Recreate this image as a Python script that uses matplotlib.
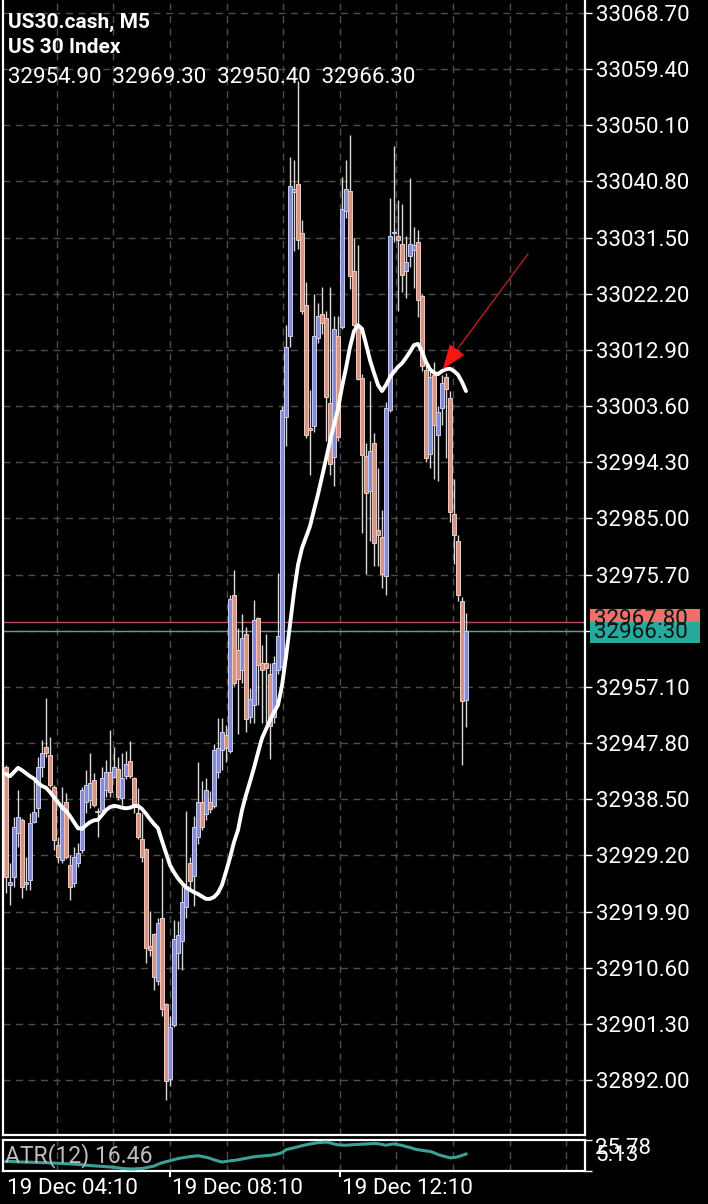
import matplotlib
matplotlib.use("Agg")
import matplotlib.pyplot as plt
import matplotlib.transforms as mtransforms
from matplotlib.patches import Rectangle

plt.rcParams["font.family"] = ["Roboto", "DejaVu Sans"]

# M5 bars, left to right
opens = [32943.8, 32924.3, 32925.6, 32932.9, 32935.1, 32924.5, 32925.1, 32934.7, 32937.1, 32943.8,
         32947.2, 32945.8, 32940.5, 32930.9, 32928.4, 32938.0, 32927.6, 32924.6, 32927.9, 32930.1,
         32938.0, 32938.4, 32941.7, 32936.4, 32936.7, 32940.0, 32943.0, 32942.2, 32943.5, 32938.7,
         32942.3, 32944.8, 32942.1, 32936.3, 32931.9, 32930.2, 32914.2, 32916.2, 32908.4, 32918.8,
         32904.6, 32892.2, 32901.1, 32913.0, 32915.0, 32920.7, 32927.9, 32925.8, 32932.2, 32938.0,
         32936.1, 32938.0, 32937.4, 32943.0, 32946.7, 32949.1, 32946.5, 32972.3, 32963.2, 32959.9,
         32965.9, 32952.2, 32954.1, 32968.5, 32961.1, 32961.1, 32959.2, 32952.2, 32959.9, 32960.4,
         33001.8, 33015.2, 33039.1, 33040.4, 33032.3, 33020.3, 33000.0, 33000.3, 33014.8, 33018.9,
         33018.2, 33004.1, 32995.2, 33015.2, 33016.7, 33035.9, 33039.2, 33026.0, 33017.0, 33008.3,
         32995.4, 32989.5, 32997.5, 32983.1, 32981.9, 32975.5, 33003.0, 33032.2, 33031.8, 33030.4,
         33026.0, 33028.4, 33029.5, 33030.8, 33021.8, 33009.6, 32995.7, 33008.8, 32998.8, 33003.3,
         33008.4, 33005.0, 32985.7, 32981.3, 32971.3, 32954.9]
highs = [32944.2, 32927.9, 32935.6, 32940.0, 32935.4, 32928.9, 32936.2, 32941.7, 32945.5, 32948.3,
         32955.3, 32948.8, 32940.9, 32932.2, 32940.5, 32939.5, 32929.3, 32930.6, 32931.3, 32940.5,
         32943.3, 32946.2, 32942.8, 32937.1, 32943.8, 32945.0, 32950.0, 32947.2, 32945.5, 32946.2,
         32946.5, 32948.1, 32942.2, 32940.4, 32936.2, 32930.4, 32920.0, 32916.3, 32918.8, 32928.8,
         32904.7, 32902.6, 32918.5, 32918.3, 32924.1, 32936.6, 32929.0, 32935.7, 32944.7, 32941.5,
         32942.1, 32939.9, 32947.6, 32952.0, 32952.0, 32950.8, 32972.3, 32976.5, 32966.9, 32969.2,
         32967.0, 32956.9, 32971.5, 32968.6, 32964.0, 32965.9, 32961.1, 32962.2, 32976.0, 33003.6,
         33017.0, 33044.9, 33044.4, 33057.4, 33034.4, 33024.1, 33006.3, 33022.2, 33020.7, 33023.3,
         33019.3, 33023.3, 33018.5, 33018.5, 33041.5, 33044.4, 33048.5, 33031.4, 33030.3, 33008.9,
         32997.5, 33007.8, 32999.2, 32993.4, 32986.4, 33004.3, 33038.0, 33046.6, 33037.7, 33037.0,
         33031.8, 33041.4, 33033.2, 33032.8, 33022.2, 33010.9, 33009.4, 33010.9, 33003.6, 33008.8,
         33009.1, 33006.1, 32991.6, 32982.3, 32972.0, 32969.3]
lows = [32923.0, 32921.0, 32924.0, 32930.6, 32922.1, 32923.5, 32923.5, 32934.6, 32935.6, 32942.2,
        32945.5, 32940.5, 32930.1, 32927.9, 32927.9, 32928.6, 32921.8, 32924.0, 32927.3, 32929.6,
        32936.2, 32937.1, 32937.2, 32932.2, 32936.2, 32938.9, 32938.9, 32942.0, 32938.4, 32937.5,
        32941.8, 32942.0, 32936.2, 32931.9, 32928.1, 32911.3, 32912.5, 32906.9, 32907.7, 32902.6,
        32888.7, 32891.0, 32900.8, 32910.4, 32910.2, 32918.8, 32923.8, 32920.8, 32931.1, 32933.4,
        32935.1, 32936.2, 32937.1, 32942.0, 32943.3, 32944.7, 32946.2, 32957.3, 32949.3, 32957.8,
        32949.6, 32951.1, 32951.1, 32954.1, 32951.1, 32951.1, 32945.2, 32951.1, 32959.2, 32959.9,
        32997.0, 33013.4, 33029.3, 33029.6, 33018.9, 32998.3, 32992.2, 32999.3, 33014.1, 33015.5,
        32997.8, 32992.2, 32990.4, 32997.8, 33016.3, 33034.8, 33023.0, 33016.7, 33008.0, 32982.6,
        32975.8, 32981.3, 32977.1, 32977.1, 32973.4, 32972.3, 33002.6, 33030.8, 33019.4, 33022.5,
        33021.5, 33026.6, 33023.2, 33018.4, 33009.4, 32994.3, 32993.4, 32991.6, 32991.2, 33000.5,
        32995.0, 32984.4, 32977.5, 32971.3, 32944.2, 32950.4]
closes = [32925.6, 32924.8, 32933.9, 32935.6, 32924.0, 32924.8, 32934.6, 32936.4, 32943.8, 32946.2,
          32946.2, 32940.9, 32931.8, 32928.9, 32937.5, 32928.9, 32924.0, 32928.9, 32929.6, 32940.0,
          32940.9, 32941.2, 32937.5, 32936.3, 32942.0, 32943.0, 32939.7, 32943.8, 32938.9, 32942.0,
          32944.4, 32942.3, 32937.2, 32932.2, 32929.0, 32913.9, 32913.5, 32909.0, 32918.0, 32903.8,
          32891.8, 32900.8, 32915.4, 32916.0, 32921.5, 32924.1, 32925.0, 32933.9, 32938.0, 32933.9,
          32940.0, 32936.9, 32946.7, 32947.0, 32949.6, 32947.0, 32971.7, 32957.8, 32958.4, 32965.2,
          32951.8, 32955.1, 32968.2, 32960.7, 32959.9, 32960.2, 32950.7, 32961.1, 32965.5, 33003.0,
          33013.4, 33040.1, 33039.6, 33031.1, 33019.3, 32998.8, 32999.6, 33015.2, 33018.5, 33017.4,
          33005.1, 32994.0, 33016.3, 32998.5, 33036.2, 33039.6, 33025.1, 33017.0, 33008.1, 32995.5,
          32989.2, 32996.1, 32980.9, 32982.3, 32975.8, 33003.3, 33031.8, 33032.5, 33031.1, 33025.3,
          33027.5, 33030.4, 33030.3, 33021.2, 33010.2, 32995.0, 33008.4, 33000.5, 33002.6, 33007.4,
          33006.4, 32986.1, 32982.3, 32972.3, 32954.8, 32966.3]

# white moving average drawn over the candles
ma_values = [32942.7, 32942.3, 32943.0, 32943.7, 32943.3, 32942.8, 32942.3, 32941.9, 32941.2, 32940.7,
             32940.4, 32939.7, 32938.8, 32938.0, 32937.1, 32936.6, 32935.7, 32934.7, 32933.7, 32933.6,
             32934.2, 32934.7, 32935.0, 32935.1, 32935.9, 32936.7, 32937.2, 32937.4, 32937.3, 32937.1,
             32937.0, 32937.1, 32937.4, 32937.4, 32936.9, 32936.1, 32935.2, 32934.4, 32933.7, 32931.6,
             32929.6, 32927.6, 32926.4, 32925.4, 32924.6, 32923.9, 32923.5, 32923.1, 32922.8, 32922.4,
             32922.0, 32922.0, 32922.3, 32923.0, 32924.3, 32926.5, 32928.8, 32931.4, 32933.4, 32936.7,
             32939.2, 32941.4, 32943.7, 32946.2, 32948.6, 32950.1, 32951.6, 32952.9, 32954.1, 32957.3,
             32962.1, 32967.4, 32972.8, 32977.3, 32980.1, 32981.9, 32983.7, 32986.4, 32989.0, 32991.9,
             32994.8, 32997.8, 33000.5, 33003.1, 33006.8, 33009.9, 33013.4, 33016.0, 33017.0, 33016.4,
             33013.9, 33011.2, 33009.1, 33007.1, 33006.1, 33007.1, 33008.4, 33009.3, 33010.1, 33010.7,
             33011.6, 33012.6, 33013.7, 33013.9, 33012.6, 33010.9, 33009.7, 33009.1, 33008.9, 33009.4,
             33009.7, 33009.8, 33009.4, 33008.8, 33007.6, 33006.1]

atr_values = [11.6, 11.5, 11.4, 11.2, 11.1, 11.0, 11.0, 10.9, 10.8, 10.7,
              10.6, 10.5, 10.4, 10.3, 10.1, 10.0, 9.9, 9.7, 9.5, 9.3,
              9.0, 8.8, 8.6, 8.4, 8.2, 8.0, 7.8, 7.6, 7.2, 6.9,
              6.6, 6.5, 6.5, 6.7, 6.8, 7.3, 7.9, 8.4, 9.6, 10.6,
              11.3, 12.0, 12.7, 13.4, 13.9, 14.3, 14.7, 15.0, 15.3, 14.8,
              14.3, 13.6, 12.6, 11.8, 11.1, 11.5, 11.9, 12.2, 12.6, 13.1,
              13.6, 14.1, 14.6, 14.9, 15.1, 15.4, 15.6, 16.0, 16.5, 17.4,
              19.3, 20.0, 20.6, 21.3, 22.0, 22.6, 23.1, 23.6, 24.0, 24.2,
              24.4, 23.9, 23.1, 22.6, 22.4, 22.3, 22.5, 22.7, 22.8, 23.0,
              23.1, 23.3, 23.5, 23.3, 22.8, 22.3, 22.8, 23.2, 22.7, 22.2,
              21.4, 20.8, 19.9, 19.3, 18.9, 18.5, 18.2, 17.3, 16.1, 15.3,
              14.6, 13.9, 14.1, 14.6, 15.5, 16.46]

price_ticks = [33068.70, 33059.40, 33050.10, 33040.80, 33031.50, 33022.20, 33012.90,
               33003.60, 32994.30, 32985.00, 32975.70, 32966.40, 32957.10, 32947.80,
               32938.50, 32929.20, 32919.90, 32910.60, 32901.30, 32892.00]
time_labels = ["19 Dec 04:10", "19 Dec 08:10", "19 Dec 12:10"]
time_ticks = [-0.25, 41.0, 83.45]

bid_price = 32966.30
ask_price = 32967.80
atr_min, atr_max = 5.13, 25.78
arrow_tail = (130.5, 33028.8)
arrow_tip = (109.2, 33009.7)
arrow_head_from = (113.6, 33013.7)

W, H = 708, 1204
fig = plt.figure(figsize=(W / 100, H / 100), dpi=100, facecolor="black")
ax = fig.add_axes([3 / W, (H - 1135) / H, 582 / W, 1135 / H])
atr_ax = fig.add_axes([3 / W, (H - 1171) / H, 582 / W, 31 / H])

grid_kw = dict(color="#4d4d4d", lw=1.0, dashes=(5, 4), zorder=0)
grid_x = [-1.45 + 14.15 * k for k in range(1, 11)]

for a in (ax, atr_ax):
    a.set_facecolor("black")
    a.set_xlim(-0.75, 144.75)
    for gx in grid_x:
        a.axvline(gx, **grid_kw)

ax.set_ylim(32882.9, 33070.85)
for p in price_ticks:
    ax.axhline(p, **grid_kw)

# candles
for i, (o, h, l, c) in enumerate(zip(opens, highs, lows, closes)):
    ax.plot([i, i], [l, h], color="#d9d9d9", lw=1.0, zorder=2, solid_capstyle="butt")
    if abs(c - o) < 0.3:
        ax.plot([i - 0.45, i + 0.45], [o, o], color="#e6e6e6", lw=1.2, zorder=3)
        continue
    if c > o:
        face, edge = "#878cd2", "#c9ccf2"
    else:
        face, edge = "#d69484", "#f2c9bf"
    ax.add_patch(Rectangle((i - 0.42, min(o, c)), 0.84, abs(c - o),
                           facecolor=face, edgecolor=edge, lw=0.7, zorder=3))

ax.plot(range(len(ma_values)), ma_values, color="white", lw=2.8, zorder=4,
        solid_capstyle="round")

# bid / ask lines
ax.axhline(ask_price, color="#b65252", lw=1.0, zorder=1)
ax.axhline(bid_price, color="#5f9c92", lw=1.0, zorder=1)

# arrow object
ax.plot([arrow_tail[0], arrow_head_from[0]], [arrow_tail[1], arrow_head_from[1]],
        color="#b52222", lw=1.0, zorder=5)
ax.annotate("", xy=arrow_tip, xytext=arrow_head_from, zorder=6,
            arrowprops=dict(arrowstyle="-|>,head_length=1.0,head_width=0.37",
                            mutation_scale=16.5, fc="#ff1414", ec="#ff1414",
                            lw=0.5, shrinkA=0, shrinkB=0))

# spines
for a in (ax, atr_ax):
    for s in a.spines.values():
        s.set_color("white")
        s.set_linewidth(1.6)
ax.spines["top"].set_visible(False)

# right price scale
ax.yaxis.tick_right()
ax.set_yticks(price_ticks)
ax.set_yticklabels([f"{p:.2f}" for p in price_ticks])
ax.tick_params(axis="y", colors="white", labelsize=16, length=5, width=1, pad=3)
ax.set_xticks([])

# current price boxes
blend = mtransforms.blended_transform_factory(ax.transAxes, ax.transData)
box_h = 21 * 0.1656
for price, color, shift in ((ask_price, "#ef6f6c", 0.45), (bid_price, "#27a99d", -0.2)):
    y0 = price + shift - box_h / 2
    ax.add_patch(Rectangle((1.009, y0), 0.189, box_h, transform=blend,
                           facecolor=color, edgecolor="none", clip_on=False, zorder=7))
    ax.text(1.016, price + shift, f"{price:.2f}", transform=blend, color="#0b1716",
            fontsize=16, va="center", ha="left", clip_on=False, zorder=8)

# header
fig.text(8 / W, 1 - 28 / H, "US30.cash, M5", color="white", fontsize=15,
         fontweight="bold", va="baseline")
fig.text(8 / W, 1 - 53 / H, "US 30 Index", color="white", fontsize=15,
         fontweight="bold", va="baseline")
fig.text(8 / W, 1 - 83 / H,
         "  ".join(f"{v:.2f}" for v in (opens[-1], highs[-1], lows[-1], closes[-1])),
         color="white", fontsize=16, va="baseline")

# ATR sub-window
atr_ax.plot(range(len(atr_values)), atr_values, color="#3aa195", lw=2.2, zorder=3)
atr_ax.set_ylim(atr_min, atr_max)
atr_ax.yaxis.tick_right()
atr_ax.set_yticks([atr_min, atr_max])
atr_ax.set_yticklabels([])
atr_ax.tick_params(axis="y", colors="white", length=5, width=1)
atr_ax.set_xticks(time_ticks[1:])
atr_ax.set_xticklabels([])
atr_ax.tick_params(axis="x", colors="white", length=4, width=1.5)
atr_ax.text(0.003, 0.5, f"ATR(12) {atr_values[-1]:.2f}", transform=atr_ax.transAxes,
            color="#bdbdbd", fontsize=16.5, va="center", ha="left", zorder=5)
atr_ax.text(1.017, 0.72, f"{atr_max:.2f}", transform=atr_ax.transAxes, color="white",
            fontsize=16, va="center", ha="left", clip_on=False)
atr_ax.text(1.017, 0.5, f"{atr_min:.2f}", transform=atr_ax.transAxes, color="white",
            fontsize=16, va="center", ha="left", clip_on=False)

tblend = mtransforms.blended_transform_factory(atr_ax.transData, fig.transFigure)
for t, label in zip(time_ticks, time_labels):
    atr_ax.text(t + 0.5, 1 - 1194 / H, label, transform=tblend, color="white",
                fontsize=16.2, ha="left", va="baseline", clip_on=False)

fig.savefig("out.png", dpi=100, facecolor="black")
